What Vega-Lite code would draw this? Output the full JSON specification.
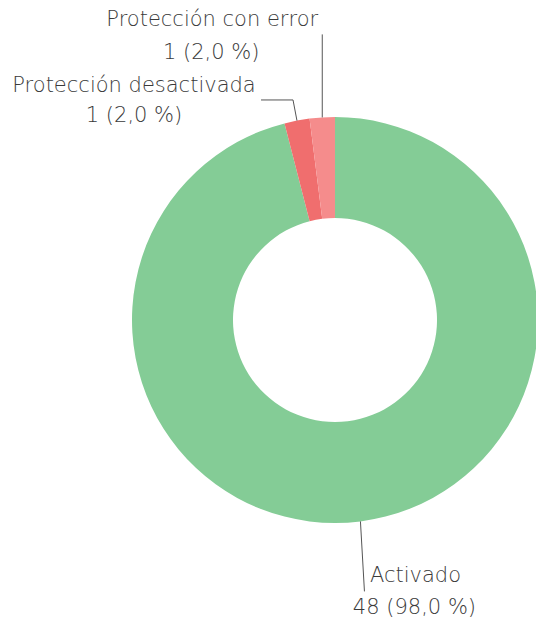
{
  "$schema": "https://vega.github.io/schema/vega-lite/v6.json",
  "width": 402,
  "height": 600,
  "autosize": {"type": "none"},
  "padding": {"left": 134, "top": 20, "right": 0, "bottom": 3},
  "background": "white",
  "config": {
    "view": {"stroke": null},
    "text": {"font": "DejaVu Sans", "fontSize": 21, "fontWeight": 300, "color": "#3a3a3a", "align": "center", "baseline": "alphabetic"},
    "rule": {"color": "#555555", "strokeWidth": 1}
  },
  "data": {
    "values": [
      {"categoria": "Activado", "valor": 48, "etiqueta": "48 (98,0 %)", "orden": 1},
      {"categoria": "Protección desactivada", "valor": 1, "etiqueta": "1 (2,0 %)", "orden": 2},
      {"categoria": "Protección con error", "valor": 1, "etiqueta": "1 (2,0 %)", "orden": 3}
    ]
  },
  "transform": [
    {"joinaggregate": [{"op": "sum", "field": "valor", "as": "total"}]},
    {"window": [{"op": "sum", "field": "valor", "as": "acum"}], "sort": [{"field": "orden"}], "frame": [null, 0]},
    {"calculate": "2*PI*(datum.acum - datum.valor/2)/datum.total", "as": "medio"},
    {"calculate": "203*sin(datum.medio)", "as": "sx"},
    {"calculate": "203*cos(datum.medio)", "as": "sy"}
  ],
  "layer": [
    {
      "mark": {"type": "arc", "radius": 203, "radius2": 102},
      "encoding": {
        "theta": {"field": "valor", "type": "quantitative", "stack": true},
        "order": {"field": "orden"},
        "color": {
          "field": "categoria",
          "type": "nominal",
          "scale": {"domain": ["Activado", "Protección desactivada", "Protección con error"], "range": ["#84cc96", "#f06e6e", "#f58c8c"]},
          "legend": null
        }
      }
    },
    {
      "transform": [
        {"filter": "datum.categoria === 'Activado'"},
        {"calculate": "datum.sx + 4", "as": "ex"},
        {"calculate": "datum.sy - 70", "as": "ey"}
      ],
      "encoding": {
        "x": {"field": "ex", "type": "quantitative", "scale": {"domain": [-201, 201], "nice": false, "zero": false}, "axis": null},
        "y": {"field": "ey", "type": "quantitative", "scale": {"domain": [-300, 300], "nice": false, "zero": false}, "axis": null}
      },
      "layer": [
        {"mark": {"type": "rule"}, "encoding": {"x": {"field": "sx", "type": "quantitative"}, "y": {"field": "sy", "type": "quantitative"}, "x2": {"field": "ex"}, "y2": {"field": "ey"}}},
        {"mark": {"type": "text", "dx": 51, "dy": -9}, "encoding": {"text": {"field": "categoria"}}},
        {"mark": {"type": "text", "dx": 50, "dy": 23}, "encoding": {"text": {"field": "etiqueta"}}}
      ]
    },
    {
      "transform": [
        {"filter": "datum.categoria === 'Protección con error'"},
        {"calculate": "datum.sx", "as": "ex"},
        {"calculate": "datum.sy + 83", "as": "ey"}
      ],
      "encoding": {
        "x": {"field": "ex", "type": "quantitative", "scale": {"domain": [-201, 201], "nice": false, "zero": false}, "axis": null},
        "y": {"field": "ey", "type": "quantitative", "scale": {"domain": [-300, 300], "nice": false, "zero": false}, "axis": null}
      },
      "layer": [
        {"mark": {"type": "rule"}, "encoding": {"x": {"field": "sx", "type": "quantitative"}, "y": {"field": "sy", "type": "quantitative"}, "x2": {"field": "ex"}, "y2": {"field": "ey"}}},
        {"mark": {"type": "text", "dx": -110, "dy": -8}, "encoding": {"text": {"field": "categoria"}}},
        {"mark": {"type": "text", "dx": -111, "dy": 25}, "encoding": {"text": {"field": "etiqueta"}}}
      ]
    },
    {
      "transform": [
        {"filter": "datum.categoria === 'Protección desactivada'"},
        {"calculate": "224*sin(datum.medio)", "as": "ex"},
        {"calculate": "224*cos(datum.medio)", "as": "ey"},
        {"calculate": "datum.ex - 32", "as": "hx"}
      ],
      "encoding": {
        "x": {"field": "hx", "type": "quantitative", "scale": {"domain": [-201, 201], "nice": false, "zero": false}, "axis": null},
        "y": {"field": "ey", "type": "quantitative", "scale": {"domain": [-300, 300], "nice": false, "zero": false}, "axis": null}
      },
      "layer": [
        {"mark": {"type": "rule"}, "encoding": {"x": {"field": "sx", "type": "quantitative"}, "y": {"field": "sy", "type": "quantitative"}, "x2": {"field": "ex"}, "y2": {"field": "ey"}}},
        {"mark": {"type": "rule"}, "encoding": {"x": {"field": "ex", "type": "quantitative"}, "x2": {"field": "hx"}}},
        {"mark": {"type": "text", "dx": -127, "dy": -8}, "encoding": {"text": {"field": "categoria"}}},
        {"mark": {"type": "text", "dx": -127, "dy": 22}, "encoding": {"text": {"field": "etiqueta"}}}
      ]
    }
  ]
}
